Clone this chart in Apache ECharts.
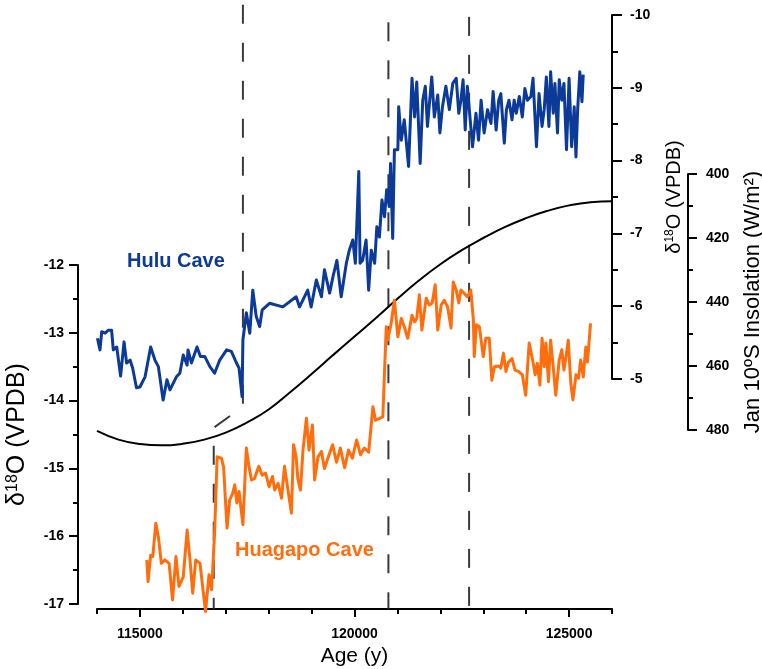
<!DOCTYPE html>
<html><head><meta charset="utf-8">
<script src="https://cdn.jsdelivr.net/npm/echarts@6/dist/echarts.min.js"></script>
<style>html,body{margin:0;padding:0;background:#fff}#c{width:762px;height:669px}</style>
</head><body><div id="c"></div><script>
// ---- Data ----
const huluYears = [114010,114070,114110,114190,114260,114340,114380,114460,114550,114630,114690,114770,114830,114920,115000,115120,115250,115350,115430,115540,115630,115700,115850,115930,116010,116100,116120,116200,116330,116410,116510,116630,116740,116860,117020,117130,117250,117310,117380,117400,117480,117560,117630,117710,117790,117850,118020,118330,118640,118720,118910,118990,119110,119230,119300,119420,119500,119590,119690,119810,119880,119960,120020,120100,120130,120190,120270,120330,120390,120470,120520,120580,120640,120700,120750,120810,120840,120890,120930,121010,121030,121090,121160,121260,121340,121400,121450,121530,121590,121650,121700,121800,121860,121940,121990,122050,122130,122210,122290,122370,122430,122480,122530,122580,122630,122690,122750,122830,122890,122950,123020,123100,123180,123230,123300,123360,123410,123490,123540,123600,123670,123720,123770,123840,123910,123970,124030,124110,124160,124240,124300,124370,124420,124470,124530,124570,124630,124670,124730,124770,124830,124880,124940,125000,125060,125120,125160,125200,125250,125300,125330];
const huluValues = [-5.56,-5.40,-5.65,-5.63,-5.67,-5.67,-5.40,-5.44,-5.04,-5.51,-5.22,-5.26,-5.15,-4.88,-4.89,-5.03,-5.44,-5.26,-5.17,-4.71,-4.99,-4.85,-5.03,-5.08,-5.33,-5.19,-5.40,-5.22,-5.44,-5.31,-5.31,-5.17,-5.08,-5.26,-5.40,-5.38,-5.22,-5.15,-4.76,-5.54,-5.91,-5.63,-6.22,-5.86,-5.72,-5.95,-6.04,-5.99,-6.13,-5.99,-6.22,-5.99,-6.36,-6.13,-6.50,-6.18,-6.41,-6.63,-6.13,-6.59,-6.77,-6.91,-6.59,-7.85,-6.59,-6.63,-6.91,-6.22,-6.77,-6.59,-7.09,-6.95,-7.46,-7.23,-7.60,-7.37,-7.96,-6.93,-8.15,-8.15,-8.74,-8.28,-8.56,-7.92,-9.13,-8.60,-9.08,-7.96,-8.83,-9.02,-8.47,-9.15,-8.60,-8.90,-8.38,-8.74,-9.02,-8.70,-9.06,-9.13,-8.65,-8.83,-9.11,-8.42,-9.02,-8.60,-8.19,-8.65,-8.28,-8.83,-8.38,-8.70,-8.51,-8.95,-8.42,-8.83,-8.92,-8.24,-8.70,-8.83,-8.56,-8.83,-8.65,-8.88,-8.60,-8.99,-8.83,-8.88,-9.13,-8.19,-8.92,-8.47,-8.70,-9.15,-8.47,-9.22,-8.65,-9.06,-8.38,-9.11,-8.83,-9.06,-8.15,-9.13,-8.19,-8.74,-8.05,-8.70,-9.22,-8.81,-9.18];

const huagapoYears = [115160,115190,115250,115300,115370,115430,115500,115580,115680,115760,115840,115910,116010,116100,116160,116230,116300,116400,116470,116530,116610,116670,116740,116800,116900,116950,117030,117090,117160,117210,117260,117310,117400,117480,117540,117600,117670,117770,117850,117930,118010,118090,118140,118220,118300,118370,118450,118530,118580,118640,118680,118740,118800,118880,118940,119020,119070,119150,119230,119300,119380,119490,119580,119670,119770,119860,119950,120050,120140,120230,120330,120430,120490,120660,120740,120770,120850,120930,121010,121090,121160,121240,121280,121340,121400,121450,121510,121570,121670,121740,121810,121880,121940,122020,122090,122170,122250,122300,122370,122430,122480,122560,122630,122710,122770,122790,122840,122910,123000,123060,123140,123200,123260,123360,123410,123470,123530,123590,123670,123740,123820,123910,123990,124070,124150,124210,124260,124320,124370,124420,124460,124520,124570,124630,124690,124770,124830,124880,124940,124980,125040,125090,125160,125220,125270,125330,125390,125430,125500];
const huagapoValues = [-16.35,-16.67,-16.28,-16.30,-15.81,-16.01,-16.40,-16.35,-16.40,-16.94,-16.30,-16.74,-16.60,-15.91,-16.30,-16.84,-16.35,-16.40,-16.79,-17.11,-16.57,-16.79,-15.96,-14.83,-14.85,-14.98,-15.88,-15.47,-15.37,-15.24,-15.51,-15.34,-15.83,-14.70,-14.97,-15.17,-15.15,-14.97,-15.10,-15.07,-15.27,-15.12,-15.32,-15.22,-15.44,-14.97,-15.32,-15.66,-14.65,-14.83,-15.15,-15.32,-14.73,-14.26,-14.73,-14.36,-15.17,-14.83,-14.75,-15.00,-14.85,-14.65,-14.91,-14.70,-14.99,-14.73,-14.85,-14.58,-14.80,-14.70,-14.76,-14.09,-14.29,-14.24,-12.91,-13.11,-12.88,-12.52,-13.06,-12.79,-12.91,-13.08,-13.08,-12.74,-12.84,-12.79,-12.44,-12.96,-12.49,-12.59,-12.56,-12.29,-12.96,-12.59,-12.52,-12.62,-12.93,-12.25,-12.37,-12.56,-12.37,-12.42,-12.47,-12.37,-12.81,-13.35,-12.88,-12.91,-13.35,-13.08,-13.08,-13.70,-13.50,-13.49,-13.52,-13.30,-13.57,-13.43,-13.38,-13.55,-13.57,-13.62,-13.92,-13.15,-13.40,-13.62,-13.45,-13.77,-13.08,-13.50,-13.15,-13.72,-13.11,-13.50,-13.92,-13.40,-13.25,-13.55,-13.30,-13.11,-13.74,-13.99,-13.62,-13.67,-13.40,-13.65,-13.21,-13.43,-12.86];

const insolYears = [114000,114500,115000,115500,116000,116500,117000,117500,118000,118500,119000,119500,120000,120500,121000,121500,122000,122500,123000,123500,124000,124500,125000,125500,126000];
const insolValues = [480.3,483.0,484.4,484.8,484.3,483.0,480.8,477.6,473.6,468.2,462.5,456.6,450.8,445.0,439.0,433.3,428.2,423.8,420.0,416.6,413.8,411.5,409.8,408.8,408.5];

// Event marker lines (age, Huagapo-axis δ18O extent)
const eventLineYears = [[117400,117400,116720,116720],[120790,120790],[122670,122670]];
const eventLineValues = [[-8.16,-14.09,-14.40,-17.07],[-8.42,-17.07],[-8.34,-17.07]];

const xLabelTicks = [115000,120000,125000];

// ---- Chart ----
const FONT = '"Liberation Sans", Arial, sans-serif';
const BLUE = '#0b3a99', ORANGE = '#ff6d0d';
const zip = (a,b) => a.map((v,i)=>[v,b[i]]);
const axisLine = {show:true, lineStyle:{color:'#000', width:2}};
const lbl = {color:'#000', fontWeight:'bold', fontSize:14, fontFamily:FONT};
const nameRich = (size) => ({
  rich: {
    a: {fontSize:size, fontFamily:FONT, color:'#000'},
    b: {fontSize:Math.round(size*0.62), fontFamily:FONT, color:'#000', verticalAlign:'top'}
  }
});

const chart = echarts.init(document.getElementById('c'), null, {renderer:'canvas'});
const xBase = {type:'value', min:114000, max:126000, splitLine:{show:false}};
const gridBase = {outerBoundsMode:'none', containLabel:false, left:97, width:515};
const option = {
  animation:false,
  backgroundColor:'#fff',
  grid:[
    Object.assign({}, gridBase, {top:265, height:339}),
    Object.assign({}, gridBase, {top:15, height:364}),
    Object.assign({}, gridBase, {top:174, height:256})
  ],
  xAxis:[
    Object.assign({}, xBase, {gridIndex:0, position:'bottom', offset:5, interval:1000,
      axisLine:axisLine,
      axisTick:{show:true, length:5, lineStyle:{color:'#000', width:2}},
      axisLabel:Object.assign({}, lbl, {customValues:xLabelTicks, margin:18, formatter:(v)=>String(v)}),
      name:'Age (y)', nameLocation:'middle', nameGap:34,
      nameTextStyle:{fontSize:21, fontFamily:FONT, color:'#000'}}),
    Object.assign({}, xBase, {gridIndex:0, position:'bottom', offset:5, interval:1000,
      axisLine:{show:false},
      axisTick:{show:true, length:8, customValues:xLabelTicks, lineStyle:{color:'#000', width:2}},
      axisLabel:{show:false}}),
    Object.assign({}, xBase, {gridIndex:1, show:false}),
    Object.assign({}, xBase, {gridIndex:2, show:false})
  ],
  yAxis:[
    {type:'value', gridIndex:0, position:'left', offset:19, min:-17, max:-12, interval:1,
      splitLine:{show:false}, axisLine:axisLine,
      axisTick:{show:true, length:9, lineStyle:{color:'#000', width:2}},
      minorTick:{show:true, splitNumber:2, length:5, lineStyle:{color:'#000', width:2}},
      axisLabel:Object.assign({}, lbl, {margin:14}),
      name:'{a|δ}{b|18}{a|O (VPDB)}', nameLocation:'middle', nameRotate:90, nameGap:48,
      nameTextStyle:nameRich(25)},
    {type:'value', gridIndex:1, position:'right', offset:0, min:-10, max:-5, interval:1, inverse:true,
      splitLine:{show:false}, axisLine:axisLine,
      axisTick:{show:true, length:10, lineStyle:{color:'#000', width:2}},
      minorTick:{show:true, splitNumber:2, length:6, lineStyle:{color:'#000', width:2}},
      axisLabel:Object.assign({}, lbl, {margin:18}),
      name:'{a|δ}{b|18}{a|O (VPDB)}', nameLocation:'middle', nameRotate:90, nameGap:52,
      nameTextStyle:nameRich(20)},
    {type:'value', gridIndex:2, position:'right', offset:76, min:400, max:480, interval:20, inverse:true,
      splitLine:{show:false}, axisLine:axisLine,
      axisTick:{show:true, length:9, lineStyle:{color:'#000', width:2}},
      minorTick:{show:true, splitNumber:2, length:5, lineStyle:{color:'#000', width:2}},
      axisLabel:Object.assign({}, lbl, {margin:18}),
      name:'Jan 10ºS Insolation (W/m²)', nameLocation:'middle', nameRotate:90, nameGap:54,
      nameTextStyle:{fontSize:22, fontFamily:FONT, color:'#000'}}
  ],
  series:[
    ...eventLineYears.map((ys,i)=>({
      type:'line', xAxisIndex:0, yAxisIndex:0, data:zip(ys, eventLineValues[i]),
      showSymbol:false, clip:false, silent:true, z:1,
      lineStyle:{color:'#3a3a3a', width:2, type:[19,19]}
    })),
    {type:'line', name:'Insolation', xAxisIndex:3, yAxisIndex:2, data:zip(insolYears, insolValues),
      smooth:true, showSymbol:false, clip:false, z:2, lineStyle:{color:'#000', width:2}},
    {type:'line', name:'Hulu', xAxisIndex:2, yAxisIndex:1, data:zip(huluYears, huluValues),
      showSymbol:false, clip:false, z:3, lineStyle:{color:BLUE, width:3, join:'round'}},
    {type:'line', name:'Huagapo', xAxisIndex:0, yAxisIndex:0, data:zip(huagapoYears, huagapoValues),
      showSymbol:false, clip:false, z:3, lineStyle:{color:ORANGE, width:3, join:'round'}}
  ],
  graphic:[
    {type:'text', left:127, top:251, style:{text:'Hulu Cave', font:'bold 20px "Liberation Sans", Arial, sans-serif', fill:BLUE}},
    {type:'text', left:235, top:540, style:{text:'Huagapo Cave', font:'bold 20px "Liberation Sans", Arial, sans-serif', fill:ORANGE}}
  ]
};
chart.setOption(option);
</script></body></html>
